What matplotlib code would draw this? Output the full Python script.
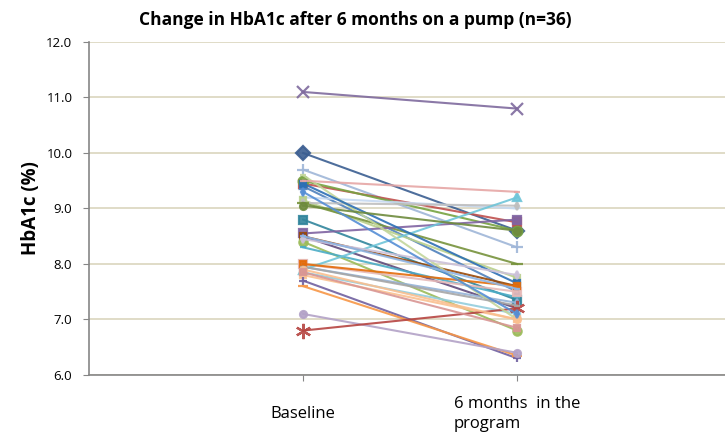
import matplotlib.pyplot as plt

# Categorias del eje X
categorias = ["Baseline", "6 months  in the\nprogram"]

# HbA1c (%) de cada paciente: al inicio y a los 6 meses
hba1c_inicio = [11.1, 10.0, 9.7, 9.45, 9.5, 9.4, 9.2, 9.15, 9.1, 9.1,
                8.8, 8.55, 8.5, 8.5, 8.4, 8.3, 8.0, 7.95, 7.9, 7.85,
                7.8, 7.7, 7.6, 7.1, 6.8, 9.6, 9.45, 9.5, 9.05, 8.45,
                8.0, 7.95, 7.9, 7.85, 9.3, 8.5]
hba1c_6m = [10.8, 8.6, 8.3, 8.75, 8.6, 7.5, 9.0, 7.75, 9.05, 8.0,
            7.35, 8.8, 7.6, 7.2, 6.8, 7.4, 7.5, 7.3, 9.2, 7.1,
            7.0, 6.3, 6.35, 6.4, 7.2, 7.0, 7.65, 9.3, 8.6, 7.8,
            7.6, 7.25, 7.0, 6.85, 7.1, 7.55]

# Estilo de cada serie (color, marcador, tamano)
estilos = [
    ("#7F6A9E", "x", 8), ("#3B5E91", "D", 7), ("#9FB6D8", "+", 9), ("#C0504D", "s", 6),
    ("#77A341", "o", 7), ("#4F81BD", "^", 5), ("#C6D9F1", "_", 6), ("#B9D08C", "s", 5),
    ("#BFBFBF", "d", 4), ("#77933C", "_", 9), ("#31859C", "s", 6), ("#8064A2", "s", 6),
    ("#984807", "s", 5), ("#604A7B", "+", 5), ("#9BBB59", "o", 6), ("#4BACC6", "_", 5),
    ("#E6B9B8", "s", 6), ("#95B3D7", "d", 4), ("#6FC5D9", "^", 6), ("#93CDDD", "s", 5),
    ("#FAC090", "s", 5), ("#7060A0", "+", 6), ("#F79646", "_", 7), ("#B3A2C7", "o", 5),
    ("#B64541", (6, 2, 0), 11), ("#C3D69B", "_", 5), ("#2C6FB5", "s", 4), ("#E6A6A5", "_", 5),
    ("#6E8B3D", "o", 5), ("#CCC1DA", "d", 4), ("#E46C0A", "s", 4), ("#A6A6A6", "_", 4),
    ("#FABF8F", "o", 5), ("#D99694", "s", 4), ("#558ED5", "d", 4), ("#8EB4E3", "_", 4),
]

plt.rcParams['font.family'] = ['Open Sans', 'DejaVu Sans']

fig = plt.figure(figsize=(7.25, 4.37), dpi=100)
ax = fig.add_axes([0.1228, 0.1419, 0.877, 0.762])

x = [1, 2]
for ini, fin, (color, marker, ms) in zip(hba1c_inicio, hba1c_6m, estilos):
    ax.plot(x, [ini, fin], color=color, linewidth=1.5, marker=marker,
            markersize=ms, markeredgewidth=1.6, alpha=0.9)

ax.set_xlim(0, 2.97)
ax.set_ylim(6, 12)
ax.set_yticks([6, 7, 8, 9, 10, 11, 12])
ax.set_yticklabels([f"{v:.1f}" for v in range(6, 13)], fontsize=9.5)
ax.set_xticks(x)
ax.set_xticklabels(categorias, fontsize=12, multialignment='left',
                   va='center', linespacing=1.3)
ax.tick_params(axis='x', length=4, pad=24, color='#868686')
ax.tick_params(axis='y', length=4, pad=8, color='#868686')

ax.grid(axis='y', color='#DDD9C3', linewidth=1.3)
ax.set_axisbelow(True)
for lado in ['top', 'right']:
    ax.spines[lado].set_visible(False)
for lado in ['left', 'bottom']:
    ax.spines[lado].set_color('#868686')
    ax.spines[lado].set_linewidth(1.2)

ax.set_ylabel("HbA1c (%)", fontsize=13.5, fontweight='bold', labelpad=4)
fig.text(0.49, 0.955, "Change in HbA1c after 6 months on a pump (n=36)",
         ha='center', va='center', fontsize=12.5, fontweight='bold')

plt.savefig("out.png", dpi=100)
plt.close()
